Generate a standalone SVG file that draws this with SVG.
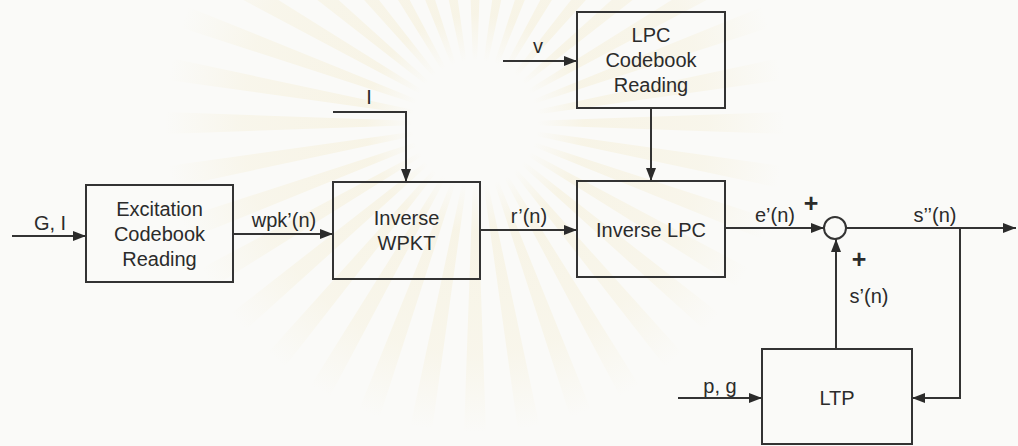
<svg xmlns="http://www.w3.org/2000/svg" xmlns:xlink="http://www.w3.org/1999/xlink" width="1018" height="446" viewBox="0 0 1018 446">
  <style>
    .box { fill: none; stroke: #333333; stroke-width: 2; }
    .wire { fill: none; stroke: #333333; stroke-width: 2; }
    .arr { marker-end: url(#ah); }
    .lbl { font-family: "Liberation Sans", Arial, sans-serif; font-size: 20px; fill: #2b2b2b; text-anchor: middle; }
    .sgn { font-family: "Liberation Sans", Arial, sans-serif; font-size: 25px; font-weight: bold; fill: #2b2b2b; text-anchor: middle; }
  </style>
  <defs>
    <marker id="ah" markerUnits="userSpaceOnUse" markerWidth="13" markerHeight="10" refX="13" refY="5" orient="auto">
      <path d="M0,0 L13,5 L0,10 z" fill="#2b2b2b"/>
    </marker>
    <radialGradient id="rayg" gradientUnits="userSpaceOnUse" cx="0" cy="0" r="310">
      <stop offset="0" stop-color="#ead58a" stop-opacity="0"/>
      <stop offset="0.2" stop-color="#ead58a" stop-opacity="0"/>
      <stop offset="0.35" stop-color="#ead58a" stop-opacity="0.16"/>
      <stop offset="0.75" stop-color="#ead58a" stop-opacity="0.12"/>
      <stop offset="1" stop-color="#ead58a" stop-opacity="0"/>
    </radialGradient>
    <polygon id="ray" points="0,0 -11,-310 11,-310"/>
  </defs>

  <rect x="0" y="0" width="1018" height="446" fill="#fafaf8"/>

  <g id="watermark" transform="translate(475,123)" fill="url(#rayg)">
    <use xlink:href="#ray" transform="rotate(0)"/>
    <use xlink:href="#ray" transform="rotate(10)"/>
    <use xlink:href="#ray" transform="rotate(20)"/>
    <use xlink:href="#ray" transform="rotate(30)"/>
    <use xlink:href="#ray" transform="rotate(40)"/>
    <use xlink:href="#ray" transform="rotate(50)"/>
    <use xlink:href="#ray" transform="rotate(60)"/>
    <use xlink:href="#ray" transform="rotate(70)"/>
    <use xlink:href="#ray" transform="rotate(80)"/>
    <use xlink:href="#ray" transform="rotate(90)"/>
    <use xlink:href="#ray" transform="rotate(100)"/>
    <use xlink:href="#ray" transform="rotate(110)"/>
    <use xlink:href="#ray" transform="rotate(120)"/>
    <use xlink:href="#ray" transform="rotate(130)"/>
    <use xlink:href="#ray" transform="rotate(140)"/>
    <use xlink:href="#ray" transform="rotate(150)"/>
    <use xlink:href="#ray" transform="rotate(160)"/>
    <use xlink:href="#ray" transform="rotate(170)"/>
    <use xlink:href="#ray" transform="rotate(180)"/>
    <use xlink:href="#ray" transform="rotate(190)"/>
    <use xlink:href="#ray" transform="rotate(200)"/>
    <use xlink:href="#ray" transform="rotate(210)"/>
    <use xlink:href="#ray" transform="rotate(220)"/>
    <use xlink:href="#ray" transform="rotate(230)"/>
    <use xlink:href="#ray" transform="rotate(240)"/>
    <use xlink:href="#ray" transform="rotate(250)"/>
    <use xlink:href="#ray" transform="rotate(260)"/>
    <use xlink:href="#ray" transform="rotate(270)"/>
    <use xlink:href="#ray" transform="rotate(280)"/>
    <use xlink:href="#ray" transform="rotate(290)"/>
    <use xlink:href="#ray" transform="rotate(300)"/>
    <use xlink:href="#ray" transform="rotate(310)"/>
    <use xlink:href="#ray" transform="rotate(320)"/>
    <use xlink:href="#ray" transform="rotate(330)"/>
    <use xlink:href="#ray" transform="rotate(340)"/>
    <use xlink:href="#ray" transform="rotate(350)"/>
  </g>

  <g id="connectors">
    <path class="wire arr" d="M12,236 L86,236"/>
    <path class="wire arr" d="M233,234 L333,234"/>
    <path class="wire arr" d="M333,112 L406,112 L406,182"/>
    <path class="wire arr" d="M480,230 L577,230"/>
    <path class="wire arr" d="M503,61 L577,61"/>
    <path class="wire arr" d="M651,108 L651,181"/>
    <path class="wire arr" d="M725,228 L824,228"/>
    <path class="wire arr" d="M846,228 L1016,228"/>
    <path class="wire arr" d="M960,228 L960,398 L912,398"/>
    <path class="wire arr" d="M836,349 L836,239"/>
    <path class="wire arr" d="M678,398 L762,398"/>
    <text class="lbl" x="50" y="230">G, I</text>
    <text class="lbl" x="284" y="227">wpk’(n)</text>
    <text class="lbl" x="369" y="104">I</text>
    <text class="lbl" x="529" y="223">r’(n)</text>
    <text class="lbl" x="538" y="53">v</text>
    <text class="lbl" x="775" y="222">e’(n)</text>
    <text class="lbl" x="935" y="222">s’’(n)</text>
    <text class="lbl" x="869" y="303">s’(n)</text>
    <text class="lbl" x="720" y="393">p, g</text>
    <text class="sgn" x="811" y="212">+</text>
    <text class="sgn" x="859" y="268">+</text>
  </g>

  <g id="excitation">
    <rect class="box" x="86" y="185" width="147" height="97"/>
    <text class="lbl" x="159.5" y="216">Excitation</text>
    <text class="lbl" x="159.5" y="241">Codebook</text>
    <text class="lbl" x="159.5" y="266">Reading</text>
  </g>

  <g id="inverse-wpkt">
    <rect class="box" x="333" y="182" width="147" height="97"/>
    <text class="lbl" x="406.5" y="225">Inverse</text>
    <text class="lbl" x="406.5" y="250">WPKT</text>
  </g>

  <g id="lpc-codebook">
    <rect class="box" x="577" y="12" width="148" height="96"/>
    <text class="lbl" x="651" y="42">LPC</text>
    <text class="lbl" x="651" y="67">Codebook</text>
    <text class="lbl" x="651" y="92">Reading</text>
  </g>

  <g id="inverse-lpc">
    <rect class="box" x="577" y="181" width="148" height="96"/>
    <text class="lbl" x="651" y="237">Inverse LPC</text>
  </g>

  <g id="sum">
    <circle cx="835" cy="228" r="11" fill="none" stroke="#333333" stroke-width="2"/>
  </g>

  <g id="ltp">
    <rect class="box" x="762" y="349" width="150" height="95"/>
    <text class="lbl" x="837" y="405">LTP</text>
  </g>
</svg>
